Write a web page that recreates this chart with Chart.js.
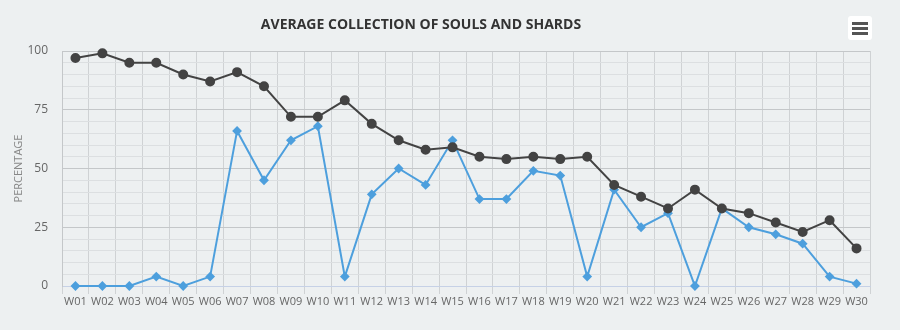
<!DOCTYPE html>
<html>
<head>
<meta charset="utf-8">
<script src="https://cdn.jsdelivr.net/npm/chart.js@4/dist/chart.umd.min.js"></script>
<style>
  html, body { margin: 0; padding: 0; background: #edf0f1; }
  #wrap { position: relative; width: 900px; height: 330px; }
  canvas { display: block; }
</style>
</head>
<body>
<div id="wrap"><canvas id="chart" width="900" height="330"></canvas></div>
<script>
// Weekly labels
const weeks = ['W01','W02','W03','W04','W05','W06','W07','W08','W09','W10',
               'W11','W12','W13','W14','W15','W16','W17','W18','W19','W20',
               'W21','W22','W23','W24','W25','W26','W27','W28','W29','W30'];

// Average collection, percentage per week
const souls  = [97, 99, 95, 95, 90, 87, 91, 85, 72, 72,
                79, 69, 62, 58, 59, 55, 54, 55, 54, 55,
                43, 38, 33, 41, 33, 31, 27, 23, 28, 16];
const shards = [0, 0, 0, 4, 0, 4, 66, 45, 62, 68,
                4, 39, 50, 43, 62, 37, 37, 49, 47, 4,
                41, 25, 31, 0, 33, 25, 22, 18, 4, 1];

// Value-axis tick labels (major steps)
const yTickLabels = [0, 25, 50, 75, 100];

const titleText = 'AVERAGE COLLECTION OF SOULS AND SHARDS';
const fontFamily = '"Open Sans", "Noto Sans", sans-serif';

// Title and context-menu button drawn on the canvas
const chrome = {
  id: 'chrome',
  afterDraw(chart) {
    const ctx = chart.ctx;
    ctx.save();
    ctx.font = 'bold 14px ' + fontFamily;
    ctx.fillStyle = '#333333';
    ctx.textAlign = 'center';
    ctx.textBaseline = 'alphabetic';
    ctx.fillText(titleText, 421, 29);

    // menu button
    ctx.fillStyle = '#ffffff';
    ctx.beginPath();
    ctx.roundRect(848, 16, 24, 24, 3);
    ctx.fill();
    ctx.fillStyle = '#555555';
    [22, 27, 32].forEach(y => ctx.fillRect(852, y, 16, 3));
    ctx.restore();
  }
};

new Chart(document.getElementById('chart'), {
  type: 'line',
  data: {
    labels: weeks,
    datasets: [
      {
        label: 'Souls',
        data: souls,
        borderColor: '#434343',
        backgroundColor: '#434343',
        borderWidth: 2,
        pointStyle: 'circle',
        pointRadius: 4,
        pointHoverRadius: 4,
        tension: 0,
        clip: false
      },
      {
        label: 'Shards',
        data: shards,
        borderColor: '#4d9fdd',
        backgroundColor: '#4d9fdd',
        borderWidth: 2,
        pointStyle: 'rectRot',
        pointRadius: 3.5,
        pointHoverRadius: 3.5,
        tension: 0,
        clip: false
      }
    ]
  },
  options: {
    responsive: false,
    animation: false,
    events: [],
    layout: { padding: { left: 0, right: 30, top: 51, bottom: 0 } },
    plugins: {
      legend: { display: false },
      title: { display: false },
      tooltip: { enabled: false }
    },
    scales: {
      x: {
        offset: true,
        grid: {
          offset: true,
          color: '#cfd2d4',
          lineWidth: 1,
          tickLength: 8,
          drawTicks: true
        },
        border: { color: '#c6d1e6', width: 1 },
        ticks: {
          color: '#666666',
          font: { family: fontFamily, size: 11 },
          padding: 1,
          maxRotation: 0,
          autoSkip: false
        },
        afterFit(scale) { scale.height = 44; }
      },
      y: {
        min: 0,
        max: 100,
        grid: {
          drawTicks: false,
          color: ctx => (ctx.tick && ctx.tick.value % 25 === 0) ? '#c4c7c9' : '#dcdfe1',
          lineWidth: 1
        },
        border: { display: true, color: '#c4c7c9' },
        ticks: {
          stepSize: 5,
          autoSkip: false,
          padding: 14,
          color: '#666666',
          font: { family: fontFamily, size: 12 },
          callback: v => yTickLabels.includes(v) ? String(v) : ''
        },
        title: {
          display: true,
          text: 'PERCENTAGE',
          color: '#888888',
          font: { family: fontFamily, size: 11 },
          padding: { top: 12, bottom: 0 }
        },
        afterFit(scale) { scale.width = 62; }
      }
    }
  },
  plugins: [chrome]
});
</script>
</body>
</html>
